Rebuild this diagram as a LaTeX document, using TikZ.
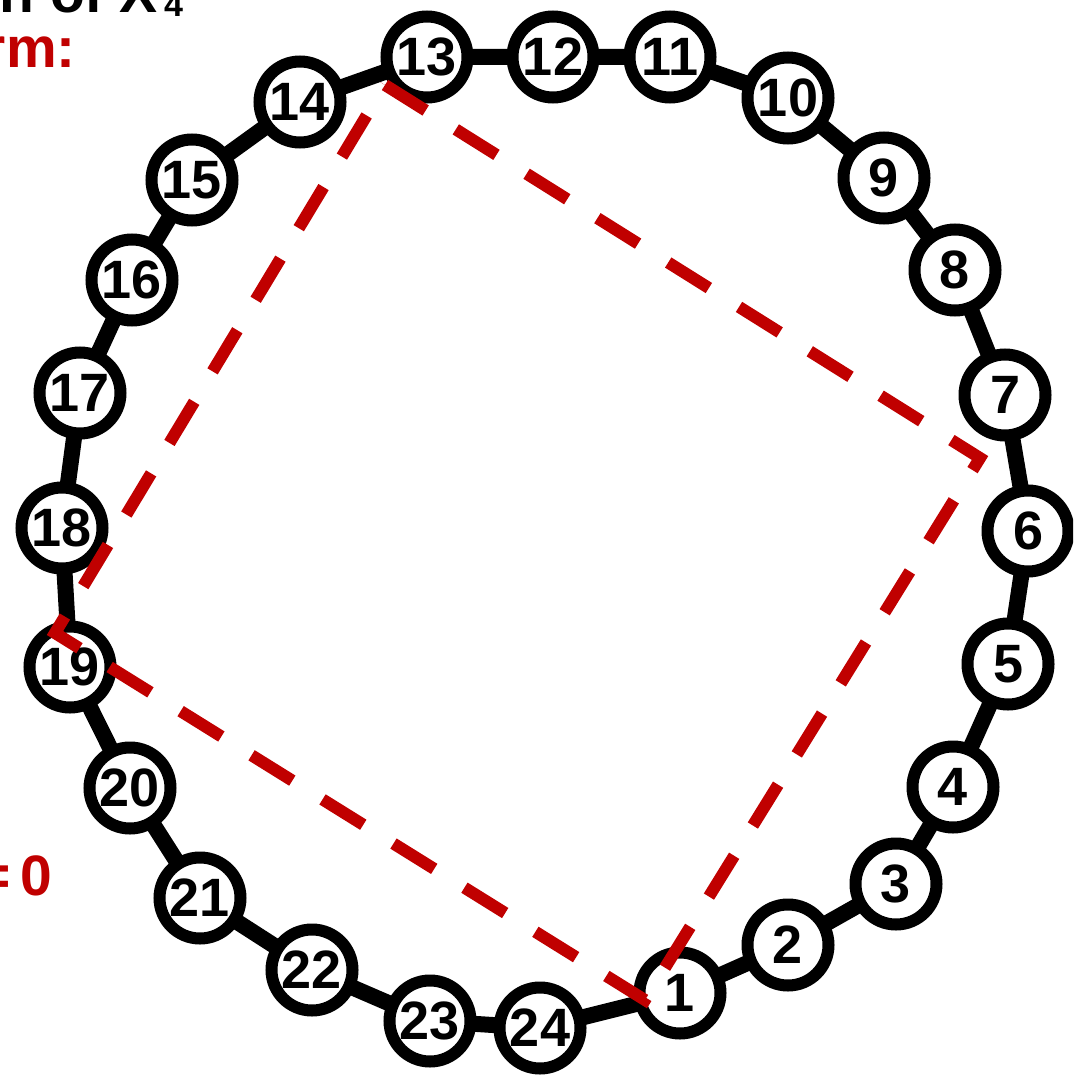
\documentclass[tikz,border=0pt]{standalone}
\usepackage{fontspec}
\setmainfont{Liberation Sans}
\definecolor{dkred}{HTML}{C00000}
\begin{document}
\begin{tikzpicture}[x=1pt,y=-1pt,
  vtx/.style={circle,draw=black,fill=white,line width=12pt,minimum size=81pt,inner sep=0pt,
    font=\fontsize{54}{54}\selectfont\bfseries},
  ringedge/.style={line width=16pt,black},
  cutline/.style={draw=dkred,line width=12pt,dash pattern=on 48pt off 35.56pt},
  redlbl/.style={font=\fontsize{57}{57}\selectfont\bfseries,text=dkred,inner sep=0pt},
  blklbl/.style={font=\fontsize{57}{57}\selectfont\bfseries,text=black,inner sep=0pt}]
\useasboundingbox (0,0) rectangle (1073,1075);
\clip (0,0) rectangle (1073,1075);

% vertex positions
\coordinate (p1) at (680,993);
\coordinate (p2) at (788,945);
\coordinate (p3) at (896,884);
\coordinate (p4) at (953,787);
\coordinate (p5) at (1008,664);
\coordinate (p6) at (1028,531);
\coordinate (p7) at (1005,395);
\coordinate (p8) at (955,270);
\coordinate (p9) at (884,178);
\coordinate (p10) at (788,98);
\coordinate (p11) at (670,57);
\coordinate (p12) at (553,57);
\coordinate (p13) at (427,57);
\coordinate (p14) at (300,102);
\coordinate (p15) at (192,180);
\coordinate (p16) at (132,280);
\coordinate (p17) at (80,393);
\coordinate (p18) at (62,528);
\coordinate (p19) at (70,667);
\coordinate (p20) at (130,788);
\coordinate (p21) at (200,898);
\coordinate (p22) at (312,970);
\coordinate (p23) at (430,1021);
\coordinate (p24) at (540,1028);

% cycle edges
\draw[ringedge] (p1) -- (p2) -- (p3) -- (p4) -- (p5) -- (p6) -- (p7) -- (p8) -- (p9) -- (p10)
  -- (p11) -- (p12) -- (p13) -- (p14) -- (p15) -- (p16) -- (p17) -- (p18) -- (p19) -- (p20)
  -- (p21) -- (p22) -- (p23) -- (p24) -- cycle;

\foreach \i in {1,...,24} {
  \node[vtx] (n\i) at (p\i) {\i};
}

% dashed quadrilateral
\coordinate (qT) at (385,85);
\coordinate (qR) at (980,458);
\coordinate (qB) at (645,1000);
\coordinate (qL) at (55,633);
\draw[cutline] (qT) -- (qR) -- (qB) -- (qL) -- cycle;

% partial labels at the left edge
\node[blklbl,anchor=base east] (title) at (158,13) {n of X};
\node[font=\fontsize{34}{34}\selectfont\bfseries,inner sep=0pt,anchor=base west] (titlesub) at (164,17) {4};
\node[redlbl,anchor=base east] (form) at (76,68) {rm:};
\node[redlbl,anchor=base east] (zero) at (52,895) {=\,0};
\end{tikzpicture}
\end{document}
